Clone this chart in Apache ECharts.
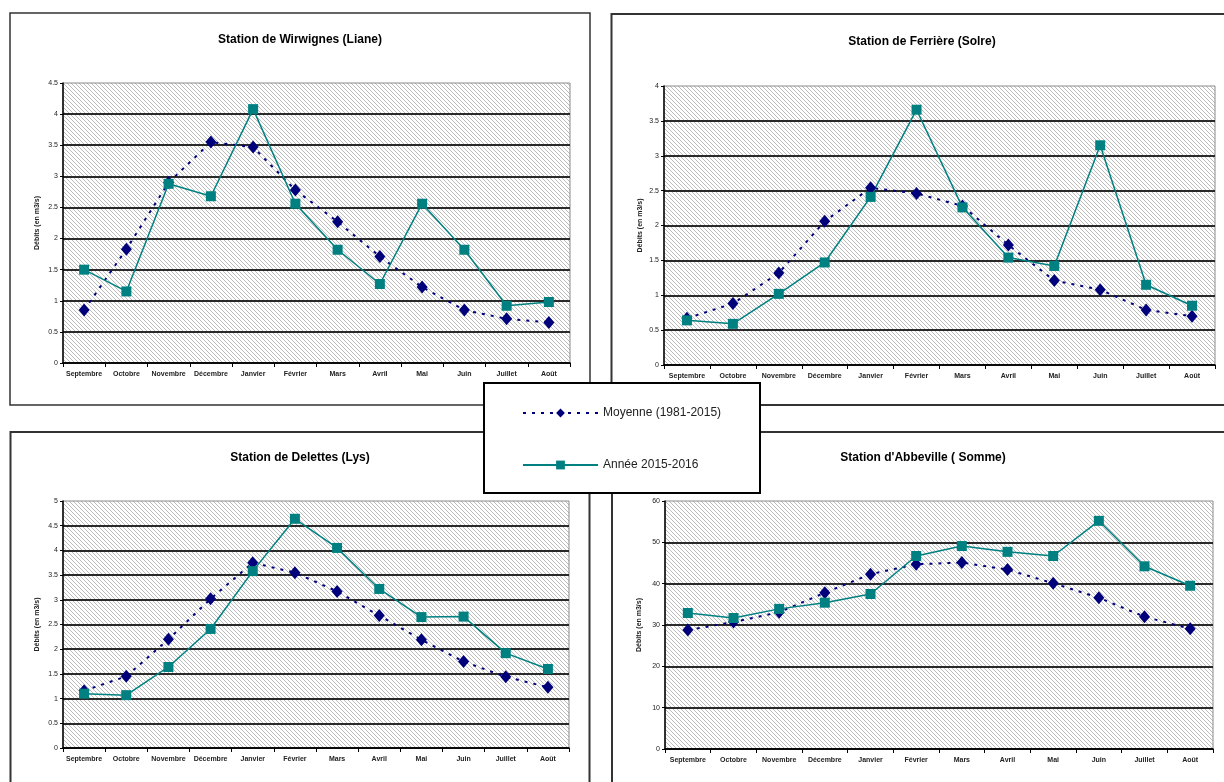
<!DOCTYPE html>
<html>
<head>
<meta charset="utf-8">
<title>Débits mensuels – stations</title>
<script src="https://cdn.jsdelivr.net/npm/echarts@6/dist/echarts.min.js"></script>
<style>
  html, body { margin: 0; padding: 0; background: #fff; }
  #chart { width: 1224px; height: 782px; }
</style>
</head>
<body>
<div id="chart"></div>
<script>
// Months of the hydrological year
const months = ['Septembre', 'Octobre', 'Novembre', 'Décembre', 'Janvier', 'Février',
                'Mars', 'Avril', 'Mai', 'Juin', 'Juillet', 'Août'];

const seriesMoyenne = 'Moyenne (1981-2015)';
const seriesAnnee = 'Année 2015-2016';
const axisName = 'Débits (en m3/s)';

// Station de Wirwignes (Liane)
const wirwignesMoyenne = [0.85, 1.83, 2.90, 3.55, 3.47, 2.78, 2.27, 1.71, 1.22, 0.85, 0.71, 0.65];
const wirwignesAnnee   = [1.50, 1.15, 2.88, 2.68, 4.08, 2.56, 1.82, 1.27, 2.56, 1.82, 0.92, 0.98];

// Station de Ferrière (Solre)
const ferriereMoyenne = [0.67, 0.88, 1.32, 2.06, 2.54, 2.46, 2.28, 1.72, 1.21, 1.08, 0.79, 0.70];
const ferriereAnnee   = [0.64, 0.59, 1.02, 1.47, 2.41, 3.66, 2.26, 1.54, 1.42, 3.15, 1.15, 0.85];

// Station de Delettes (Lys)
const delettesMoyenne = [1.16, 1.45, 2.20, 3.02, 3.75, 3.55, 3.17, 2.68, 2.19, 1.75, 1.44, 1.23];
const delettesAnnee   = [1.10, 1.07, 1.64, 2.41, 3.58, 4.64, 4.05, 3.22, 2.65, 2.66, 1.92, 1.60];

// Station d'Abbeville (Somme)
const abbevilleMoyenne = [28.8, 30.7, 33.1, 37.8, 42.3, 44.7, 45.1, 43.4, 40.1, 36.6, 32.0, 29.1];
const abbevilleAnnee   = [32.9, 31.7, 33.9, 35.4, 37.5, 46.7, 49.1, 47.7, 46.7, 55.2, 44.2, 39.5];

// Y axis ranges: [max, interval]
const axisWirwignes = [4.5, 0.5];
const axisFerriere  = [4, 0.5];
const axisDelettes  = [5, 0.5];
const axisAbbeville = [60, 10];

// Diagonal hatch used as plot-area background
function hatchTile() {
  const c = document.createElement('canvas');
  c.width = 4; c.height = 4;
  const g = c.getContext('2d');
  g.fillStyle = '#ffffff';
  g.fillRect(0, 0, 4, 4);
  g.fillStyle = '#bcbcbc';
  for (let i = 0; i < 4; i++) g.fillRect(i, i, 1, 1);
  return c;
}
const hatch = { image: hatchTile(), repeat: 'repeat' };

const FONT = 'Arial, "Liberation Sans", sans-serif';

const panels = [
  { title: 'Station de Wirwignes (Liane)', tx: 300, ty: 34, grid: [63, 83, 507, 280], axis: axisWirwignes, moy: wirwignesMoyenne, an: wirwignesAnnee, gap: 22 },
  { title: 'Station de Ferrière (Solre)',  tx: 922, ty: 36, grid: [664, 86, 551, 279], axis: axisFerriere, moy: ferriereMoyenne, an: ferriereAnnee, gap: 20 },
  { title: 'Station de Delettes (Lys)',    tx: 300, ty: 452, grid: [63, 501, 506, 247], axis: axisDelettes, moy: delettesMoyenne, an: delettesAnnee, gap: 22 },
  { title: "Station d'Abbeville ( Somme)", tx: 923, ty: 452, grid: [665, 501, 548, 248], axis: axisAbbeville, moy: abbevilleMoyenne, an: abbevilleAnnee, gap: 22 }
];

const titles = [], grids = [], xAxes = [], yAxes = [], series = [];

panels.forEach((p, i) => {
  titles.push({
    text: p.title, left: p.tx, top: p.ty, textAlign: 'center', padding: 0,
    textStyle: { fontSize: 12, fontWeight: 'bold', color: '#000', fontFamily: FONT }
  });
  grids.push({
    left: p.grid[0], top: p.grid[1], width: p.grid[2], height: p.grid[3],
    show: true, backgroundColor: hatch, borderColor: '#8a8a8a', borderWidth: 1
  });
  xAxes.push({
    type: 'category', gridIndex: i, data: months, boundaryGap: true,
    axisLine: { lineStyle: { color: '#000', width: 1.5 } },
    axisTick: { show: true, length: 4, inside: false, lineStyle: { color: '#000' } },
    axisLabel: { interval: 0, fontSize: 7, fontWeight: 'bold', color: '#222', margin: 8, fontFamily: FONT },
    splitLine: { show: false }
  });
  yAxes.push({
    type: 'value', gridIndex: i, min: 0, max: p.axis[0], interval: p.axis[1],
    name: axisName, nameLocation: 'middle', nameGap: p.gap, nameRotate: 90,
    nameTextStyle: { fontSize: 7, fontWeight: 'bold', color: '#222', fontFamily: FONT },
    axisLine: { show: true, lineStyle: { color: '#000', width: 1.5 } },
    axisTick: { show: true, length: 3, lineStyle: { color: '#000' } },
    axisLabel: { fontSize: 7, color: '#222', margin: 5, fontFamily: FONT },
    splitLine: { show: true, showMaxLine: false, lineStyle: { color: '#2a2a2a', width: 2 } }
  });
  series.push({
    name: seriesMoyenne, type: 'line', xAxisIndex: i, yAxisIndex: i, data: p.moy,
    symbol: 'diamond', symbolSize: [11, 13],
    itemStyle: { color: '#00007a' },
    lineStyle: { color: '#00007a', width: 2, type: [3, 6] },
    animation: false
  });
  series.push({
    name: seriesAnnee, type: 'line', xAxisIndex: i, yAxisIndex: i, data: p.an,
    symbol: 'rect', symbolSize: 10,
    itemStyle: { color: '#008080' },
    lineStyle: { color: '#008080', width: 1.5 },
    animation: false
  });
});

// Frames round each panel
const frame = (x, y, w, h, lw) => ({
  type: 'rect', z: 1, silent: true,
  shape: { x: x, y: y, width: w, height: h },
  style: { fill: null, stroke: '#333', lineWidth: lw }
});

const chart = echarts.init(document.getElementById('chart'), null, { renderer: 'canvas' });
chart.setOption({
  backgroundColor: '#fff',
  animation: false,
  title: titles,
  grid: grids,
  xAxis: xAxes,
  yAxis: yAxes,
  series: series,
  legend: {
    orient: 'vertical', left: 517, top: 402, z: 30,
    itemWidth: 75, itemHeight: 11, itemGap: 40,
    data: [seriesMoyenne, seriesAnnee],
    textStyle: { fontSize: 12, color: '#222', fontFamily: FONT },
    selectedMode: false
  },
  graphic: [
    frame(10, 13, 580, 392, 1.5),
    frame(611.5, 14, 640, 391, 2),
    frame(10.5, 432, 579, 380, 2),
    frame(612, 432, 640, 380, 2),
    // shared legend box
    {
      type: 'rect', z: 20, silent: true,
      shape: { x: 484, y: 383, width: 276, height: 110 },
      style: { fill: '#fff', stroke: '#000', lineWidth: 2 }
    }
  ]
});
</script>
</body>
</html>
